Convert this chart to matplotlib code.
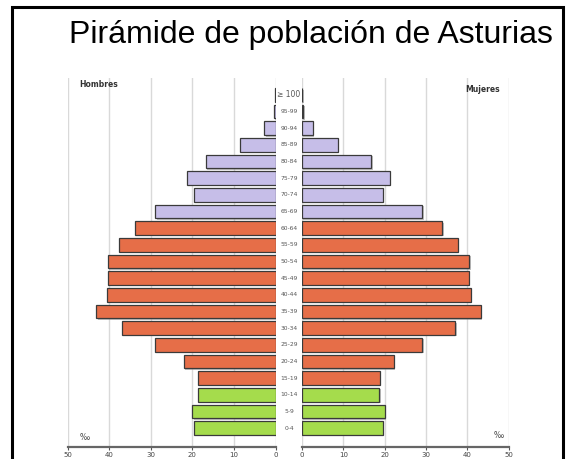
import matplotlib
matplotlib.use("Agg")
import matplotlib.pyplot as plt
import matplotlib.patches as mpatches
import matplotlib.patheffects as pe
from matplotlib.transforms import blended_transform_factory

# ---- data ----
age_groups = ["0-4", "5-9", "10-14", "15-19", "20-24", "25-29", "30-34", "35-39",
              "40-44", "45-49", "50-54", "55-59", "60-64", "65-69", "70-74",
              "75-79", "80-84", "85-89", "90-94", "95-99", "≥ 100"]
hombres = [19.6, 20.0, 18.6, 18.6, 22.1, 28.9, 37.0, 43.1, 40.6, 40.2, 40.3,
           37.7, 33.7, 28.9, 19.6, 21.3, 16.8, 8.6, 2.7, 0.5, 0.1]
mujeres = [19.6, 20.0, 18.7, 18.8, 22.2, 29.1, 37.1, 43.2, 40.8, 40.3, 40.5,
           37.7, 33.9, 29.1, 19.6, 21.3, 16.8, 8.6, 2.6, 0.3, 0.1]
xticks = [0, 10, 20, 30, 40, 50]

C_YOUNG = "#a5dc4c"
C_ADULT = "#e66e48"
C_OLD = "#c6bee8"
colors = [C_YOUNG] * 3 + [C_ADULT] * 10 + [C_OLD] * 8

W, H = 566, 459
fig = plt.figure(figsize=(W / 100, H / 100), dpi=100)
fig.patch.set_facecolor("white")

bottom = 1 - 446.7 / H
top = 1 - 78 / H
axL = fig.add_axes([67.5 / W, bottom, (275.7 - 67.5) / W, top - bottom])
axR = fig.add_axes([302 / W, bottom, (508.7 - 302) / W, top - bottom])

ypos = list(range(len(age_groups)))
shadow = [pe.withSimplePatchShadow(offset=(1.0, -1.0), shadow_rgbFace="#999999", alpha=0.6)]

for ax, vals in ((axL, hombres), (axR, mujeres)):
    ax.set_axisbelow(True)
    ax.grid(axis="x", color="#d9d9d9", lw=1.0)
    ax.grid(axis="y", visible=False)
    bars = ax.barh(ypos, vals, height=0.82, color=colors, edgecolor="#3a3a3a", lw=0.9, zorder=3)
    for b in bars:
        b.set_path_effects(shadow)
    ax.set_ylim(-1.12, 21.02)
    ax.set_yticks([])
    ax.set_xticks(xticks)
    ax.set_xticklabels([str(t) for t in xticks], fontsize=5, color="#444444",
                       family="DejaVu Sans")
    ax.tick_params(axis="x", length=2.5, width=0.8, color="#555555", pad=1.5)
    for s in ("top", "left", "right"):
        ax.spines[s].set_visible(False)
    ax.spines["bottom"].set_color("#666666")
    ax.spines["bottom"].set_linewidth(1.6)

axL.set_xlim(50, 0)
axR.set_xlim(0, 50)

# age labels in the middle
tr = blended_transform_factory(fig.transFigure, axR.transData)
for i, lab in enumerate(age_groups):
    if lab.startswith("≥"):
        axR.text(289 / W, i, lab, transform=tr, ha="center", va="center",
                 fontsize=5.5, color="#555555", family=["DejaVu Sans"])
    else:
        axR.text(289 / W, i, lab, transform=tr, ha="center", va="center",
                 fontsize=4.3, color="#555555", family=["DejaVu Sans"])

# side labels
fig.text(79 / W, 1 - 85 / H, "Hombres", fontsize=5.5, fontweight="bold",
         color="#333333", ha="left", va="center", family="DejaVu Sans")
fig.text(500 / W, 1 - 89 / H, "Mujeres", fontsize=5.5, fontweight="bold",
         color="#333333", ha="right", va="center", family="DejaVu Sans")
fig.text(85 / W, 1 - 437 / H, "‰", fontsize=5.5, color="#444444",
         ha="center", va="center", family="DejaVu Sans")
fig.text(499 / W, 1 - 435 / H, "‰", fontsize=5.5, color="#444444",
         ha="center", va="center", family="DejaVu Sans")

# title
fig.text(311 / W, 1 - 35 / H, "Pirámide de población de Asturias", fontsize=23,
         color="black", ha="center", va="center", family="Liberation Sans")

# border
fig.patches.append(mpatches.Rectangle((12 / W, -0.2), (562.5 - 12) / W, 1.2 - 7 / H,
                                      transform=fig.transFigure, fill=False,
                                      edgecolor="black", lw=2.2))

fig.savefig("out.png", dpi=100)
